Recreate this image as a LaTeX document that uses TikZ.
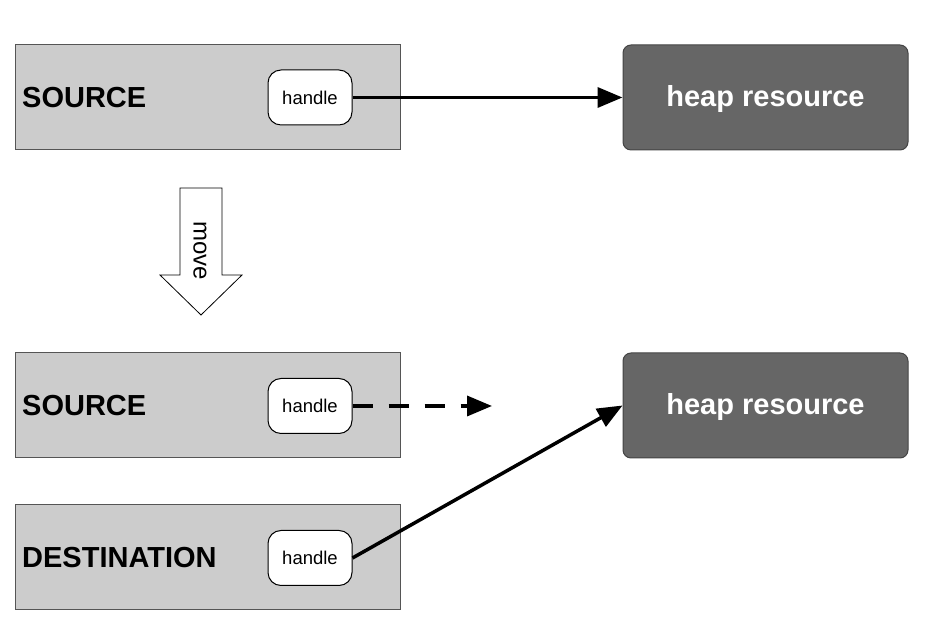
\documentclass[tikz,border=0pt]{standalone}
\usepackage{fontspec}
\setmainfont{Liberation Sans}
\usetikzlibrary{arrows.meta}
\definecolor{boxgray}{HTML}{CCCCCC}
\definecolor{boxline}{HTML}{555555}
\definecolor{heapgray}{HTML}{666666}
\definecolor{heapline}{HTML}{444444}
\begin{document}
\begin{tikzpicture}[x=1pt,y=1pt,
  holder/.style={draw=boxline,line width=1pt,fill=boxgray,minimum width=385pt,minimum height=105pt,inner sep=0pt},
  handlebox/.style={draw=black,line width=1pt,fill=white,rounded corners=13pt,minimum width=84pt,minimum height=55pt,inner sep=0pt,font=\fontsize{18.5}{22}\selectfont},
  heap/.style={draw=heapline,line width=1pt,fill=heapgray,rounded corners=8pt,minimum width=285pt,minimum height=105pt,inner sep=0pt,text height=21pt,text depth=2pt,text=white,font=\fontsize{29}{34}\selectfont\bfseries},
  lbl/.style={anchor=west,inner sep=0pt,font=\fontsize{29}{34}\selectfont\bfseries},
  link/.style={line width=3.5pt,-{Triangle[length=25pt,width=20pt]}},
]
\useasboundingbox (0,0) rectangle (930,626);
% top row
\node[holder] (src1) at (207.5,528.5) {};
\node[lbl] (src1l) at (22,528) {SOURCE};
\node[handlebox] (h1) at (310,528.5) {handle};
\node[heap] (heap1) at (765.5,528.5) {heap resource};
\draw[link] (h1.east) -- (heap1.west);
% move arrow
\draw[line width=0.8pt,draw=black,fill=white] (180,438) -- (222,438) -- (222,351) -- (242,351) -- (201,311) -- (160,351) -- (180,351) -- cycle;
\node[rotate=-90,inner sep=0pt,font=\fontsize{24}{28}\selectfont] (mv) at (200,375) {move};
% middle row
\node[holder] (src2) at (207.5,220.5) {};
\node[lbl] (src2l) at (22,220) {SOURCE};
\node[handlebox] (h2) at (310,220) {handle};
\node[heap] (heap2) at (765.5,220.5) {heap resource};
\coordinate (dangle) at (492,220);
\draw[link,dash pattern=on 20pt off 16pt] (h2.east) -- (dangle);
% bottom row
\node[holder] (dst) at (207.5,68.5) {};
\node[lbl] (dstl) at (22,68) {DESTINATION};
\node[handlebox] (h3) at (310,68) {handle};
\draw[link] (h3.east) -- (heap2.west);
\end{tikzpicture}
\end{document}
